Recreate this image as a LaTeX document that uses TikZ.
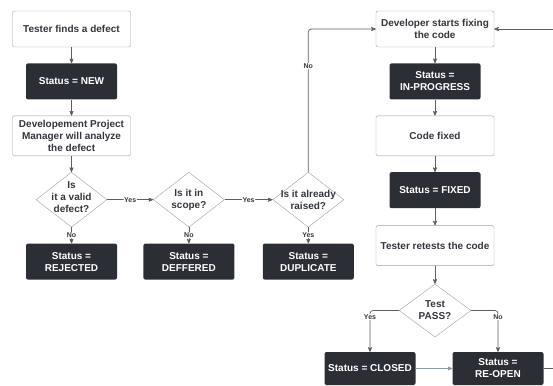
\documentclass[tikz,border=0pt]{standalone}
\usepackage{fontspec}
\setmainfont{Liberation Sans}
\usetikzlibrary{shapes.geometric,arrows,positioning}

\definecolor{boxdark}{HTML}{2B2E35}
\definecolor{textgray}{HTML}{33363D}
\definecolor{linegray}{HTML}{5E5E5E}
\definecolor{edgegray}{HTML}{A0A0A0}
\definecolor{bluegray}{HTML}{8C9AAB}

\tikzset{
  proc/.style={draw=edgegray, fill=white, rounded corners=2pt, minimum width=118pt,
    minimum height=36pt, align=center, text=textgray, inner sep=1pt,
    font=\bfseries\fontsize{10}{12}\selectfont},
  status/.style={fill=boxdark, rounded corners=2pt, minimum width=91pt,
    minimum height=36pt, align=center, text=white, inner sep=1pt,
    font=\bfseries\fontsize{10}{12}\selectfont},
  decision/.style={diamond, draw=edgegray, fill=white, minimum width=71pt,
    minimum height=55pt, inner sep=0pt},
  ask/.style={align=center, text=textgray, inner sep=0pt,
    font=\bfseries\fontsize{10}{12}\selectfont},
  tag/.style={fill=white, inner sep=0.6pt, text=textgray,
    font=\bfseries\fontsize{7}{8}\selectfont},
  link/.style={->, draw=linegray, line width=0.7pt, rounded corners=3pt}
}

\begin{document}
\begin{tikzpicture}[x=1pt,y=-1pt,>=stealth',node distance=16pt]
  \useasboundingbox (0,0) rectangle (553,385);

  % left column
  \node[proc] (find) at (71.5,29) {Tester finds a defect};
  \node[status] (new) [below=of find] {Status = NEW};
  \node[proc, minimum height=40pt] (analyze) [below=of new] {Developement Project\\Manager will analyze\\the defect};

  % the three checks
  \node[decision, label={[ask,yshift=3pt]center:Is\\it a valid\\defect?}] (valid) [below=of analyze] {};
  \node[decision, label={[ask]center:Is it in\\scope?}] (scope) [right=46pt of valid] {};
  \node[decision, label={[ask]center:Is it already\\raised?}] (raised) [right=48pt of scope] {};

  \node[status] (rejected) [below=of valid] {Status =\\REJECTED};
  \node[status] (deferred) [below=of scope] {Status =\\DEFFERED};
  \node[status] (duplicate) [below=of raised] {Status =\\DUPLICATE};

  % right column
  \node[proc] (start) at (435,29) {Developer starts fixing\\the code};
  \node[status] (progress) [below=of start] {Status =\\IN-PROGRESS};
  \node[proc, minimum height=40pt] (codefixed) [below=of progress] {Code fixed};
  \node[status] (fixed) [below=of codefixed] {Status = FIXED};
  \node[proc, minimum height=40pt] (retest) [below=17pt of fixed] {Tester retests the code};
  \node[decision, minimum width=72pt, minimum height=53pt, label={[ask]center:Test\\PASS?}] (pass) [below=18pt of retest] {};

  \node[status, minimum height=33pt] (closed) at (370,368.5) {Status = CLOSED};
  \node[status, minimum height=33pt] (reopen) at (498,368.5) {Status =\\RE-OPEN};

  \coordinate (loopin) at (553,29);
  \coordinate (loopout) at (553,368.5);

  \draw[link] (find) -- (new);
  \draw[link] (new) -- (analyze);
  \draw[link] (analyze) -- (valid);
  \draw[link] (valid) -- node[tag] {Yes} (scope);
  \draw[link] (scope) -- node[tag] {Yes} (raised);
  \draw[link] (valid) -- node[tag] {No} (rejected);
  \draw[link] (scope) -- node[tag] {No} (deferred);
  \draw[link] (raised) -- node[tag] {Yes} (duplicate);
  \draw[link] (raised.north) |- node[tag, pos=0.37] {No} (start.west);

  \draw[link] (start) -- (progress);
  \draw[link] (progress) -- (codefixed);
  \draw[link] (codefixed) -- (fixed);
  \draw[link] (fixed) -- (retest);
  \draw[link] (retest) -- (pass);
  \draw[link] (pass.west) -| node[tag, pos=0.58] {Yes} (closed.north);
  \draw[link] (pass.east) -| node[tag, pos=0.58] {No} (reopen.north);
  \draw[link, draw=bluegray] (closed) -- (reopen);
  \draw[draw=linegray, line width=0.7pt] (reopen.east) -- (loopout);
  \draw[link] (loopin) -- (start.east);
\end{tikzpicture}
\end{document}
